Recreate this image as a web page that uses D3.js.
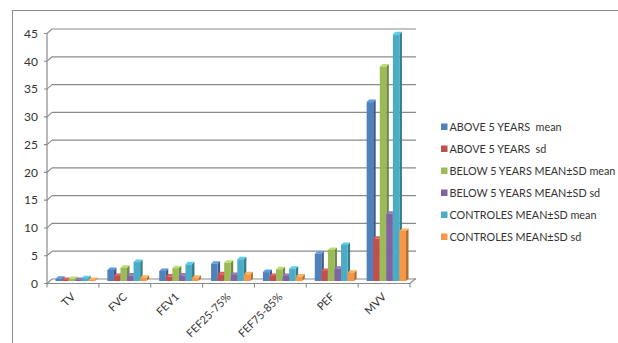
<!DOCTYPE html>
<html>
<head>
<meta charset="utf-8">
<script src="https://cdn.jsdelivr.net/npm/d3@7"></script>
<style>
  html, body { margin: 0; padding: 0; background: #fff; }
  svg { display: block; font-family: Lato, "Open Sans", sans-serif; }
  .legend text { white-space: pre; }
</style>
</head>
<body>
<svg id="chart" width="618" height="343"></svg>
<script>
// Spirometry values per test, six series
const categories = ["TV", "FVC", "FEV1", "FEF25-75%", "FEF75-85%", "PEF", "MVV"];
const aboveMean  = [0.4, 2.0, 1.8, 3.1, 1.6, 4.9, 32.2];
const aboveSd    = [0.2, 0.9, 0.8, 1.2, 0.9, 1.8, 7.6];
const belowMean  = [0.35, 2.4, 2.3, 3.3, 2.1, 5.6, 38.6];
const belowSd    = [0.2, 1.0, 1.0, 1.1, 0.9, 2.2, 12.1];
const ctrlMean   = [0.5, 3.4, 3.0, 3.9, 2.2, 6.5, 44.4];
const ctrlSd     = [0.2, 0.6, 0.6, 1.2, 0.8, 1.5, 9.0];
const seriesNames = [
  "ABOVE 5 YEARS  mean",
  "ABOVE 5 YEARS  sd",
  "BELOW 5 YEARS MEAN\u00B1SD mean",
  "BELOW 5 YEARS MEAN\u00B1SD sd",
  "CONTROLES MEAN\u00B1SD mean",
  "CONTROLES MEAN\u00B1SD sd"
];
const yTicks = [0, 5, 10, 15, 20, 25, 30, 35, 40, 45];

const seriesValues = [aboveMean, aboveSd, belowMean, belowSd, ctrlMean, ctrlSd];
const colors = ["#4F81BD", "#C0504D", "#9BBB59", "#8064A2", "#4BACC6", "#F79646"];

const svg = d3.select("#chart");

// outer chart frame
svg.append("rect")
  .attr("x", 12.5).attr("y", 10.5)
  .attr("width", 700).attr("height", 400)
  .attr("fill", "none").attr("stroke", "#8a8a8a").attr("stroke-width", 1);

// front plane scales
const x0 = d3.scaleBand().domain(categories).range([47, 410]).paddingInner(0).paddingOuter(0);
const y = d3.scaleLinear().domain([0, 45]).range([283.5, 33.5]);

// depth offsets: back wall and bar mid-plane
const back = { dx: 5, dy: -4.5 };
const mid = { dx: 2.5, dy: -2.5 };

const grid = svg.append("g");
// back wall gridlines
grid.selectAll("line.grid").data(yTicks).join("line")
  .attr("class", "grid")
  .attr("x1", 47 + back.dx).attr("x2", 410 + back.dx + 1)
  .attr("y1", d => y(d) + back.dy).attr("y2", d => y(d) + back.dy)
  .attr("stroke", "#8a8a8a").attr("stroke-width", 1.2);
// slanted tick connectors on the left wall
grid.selectAll("path.tick").data(yTicks).join("path")
  .attr("class", "tick")
  .attr("d", d => `M44,${y(d)} L47,${y(d)} L${47 + back.dx},${y(d) + back.dy}`)
  .attr("fill", "none")
  .attr("stroke", "#8a8a8a").attr("stroke-width", 1.1);
// vertical axis
grid.append("line")
  .attr("x1", 47).attr("x2", 47)
  .attr("y1", y(45)).attr("y2", y(0) + 1)
  .attr("stroke", "#8a8a8a").attr("stroke-width", 1.2);
// floor outline
grid.append("path")
  .attr("d", `M47,${y(0)} L410,${y(0)} L${410 + back.dx},${y(0) + back.dy} L${410 + back.dx + 1},${y(0) + back.dy}`)
  .attr("fill", "none").attr("stroke", "#8a8a8a").attr("stroke-width", 1.2);
// category ticks
grid.selectAll("line.ctick").data(d3.range(categories.length + 1)).join("line")
  .attr("class", "ctick")
  .attr("x1", i => 47 + i * x0.step()).attr("x2", i => 47 + i * x0.step())
  .attr("y1", y(0)).attr("y2", y(0) + 4)
  .attr("stroke", "#8a8a8a").attr("stroke-width", 1.1);

// y tick labels
svg.append("g").selectAll("text").data(yTicks).join("text")
  .attr("x", 38).attr("y", d => y(d))
  .attr("dy", "0.36em")
  .attr("text-anchor", "end")
  .attr("font-size", 12)
  .attr("fill", "#333")
  .text(d => d);

// category labels, rotated 45 degrees and ending under each category
svg.append("g").selectAll("text").data(categories).join("text")
  .attr("transform", d => `translate(${x0(d) + x0.bandwidth() / 2 + 3},${y(0) + 14}) rotate(-45)`)
  .attr("text-anchor", "end")
  .attr("font-size", 11)
  .attr("fill", "#333")
  .text(d => d);

// inner scale for the six series within each category
const x1 = d3.scaleBand().domain(d3.range(6))
  .range([8, x0.bandwidth() - 4.5]).paddingInner(0);
const bw = x1.bandwidth();
const side = 2.5, topH = 2.5;

const bars = svg.append("g");
categories.forEach((cat, ci) => {
  seriesValues.forEach((vals, si) => {
    const v = vals[ci];
    const xl = x0(cat) + x1(si) + mid.dx - 2;
    const yb = y(0) + mid.dy;
    const yt = y(v) + mid.dy;
    const c = d3.color(colors[si]);
    const g = bars.append("g");
    // side face
    g.append("path")
      .attr("d", `M${xl + bw},${yb} L${xl + bw + side},${yb - topH} L${xl + bw + side},${yt - topH} L${xl + bw},${yt} Z`)
      .attr("fill", c.darker(0.9));
    // top face
    g.append("path")
      .attr("d", `M${xl},${yt} L${xl + side},${yt - topH} L${xl + bw + side},${yt - topH} L${xl + bw},${yt} Z`)
      .attr("fill", c.brighter(0.5));
    // front face
    g.append("rect")
      .attr("x", xl).attr("y", yt)
      .attr("width", bw).attr("height", Math.max(0, yb - yt))
      .attr("fill", c);
  });
});

// legend
const legend = svg.append("g").attr("class", "legend").attr("transform", "translate(441,127)");
const rows = legend.selectAll("g").data(seriesNames).join("g")
  .attr("transform", (d, i) => `translate(0,${i * 22})`);
rows.append("rect")
  .attr("x", 0).attr("y", -3.5).attr("width", 6.5).attr("height", 6.5)
  .attr("fill", (d, i) => colors[i]);
rows.append("text")
  .attr("x", 8.5).attr("y", 0).attr("dy", "0.36em")
  .attr("font-size", 10.8)
  .attr("fill", "#333")
  .text(d => d);
</script>
</body>
</html>
